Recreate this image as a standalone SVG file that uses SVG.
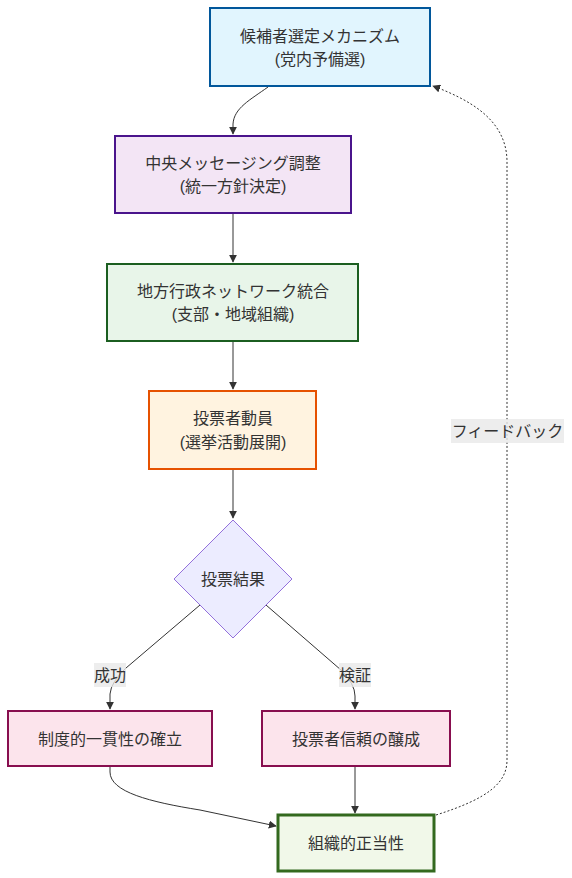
<svg xmlns="http://www.w3.org/2000/svg" width="572" height="878" viewBox="0 0 572 878">
<defs>
<style>
text{font-family:"Liberation Sans","Noto Sans CJK JP",sans-serif;font-size:16px;fill:#333;text-anchor:middle;dominant-baseline:central}
.e{fill:none;stroke:#333;stroke-width:1}
.d{stroke-dasharray:2 2}
.lb{fill:#e8e8e8;opacity:0.8}
</style>
<marker id="ah" viewBox="0 0 10 10" refX="9" refY="5" markerWidth="8" markerHeight="8" orient="auto-start-reverse" markerUnits="userSpaceOnUse">
<path d="M0,0 L10,5 L0,10 z" fill="#333"/>
</marker>
</defs>
<rect width="572" height="878" fill="#fff"/>
<g id="connectors">
<path class="e" d="M268,87 C250,100 234,108 233,124 L233,134" marker-end="url(#ah)"/>
<path class="e" d="M233,213 L233,262" marker-end="url(#ah)"/>
<path class="e" d="M233,341 L233,389" marker-end="url(#ah)"/>
<path class="e" d="M233,469 L233,518" marker-end="url(#ah)"/>
<path class="e" d="M200,605 L126,668 Q111,682 110,694 L110,709" marker-end="url(#ah)"/>
<path class="e" d="M266,605 L341,670 Q355,684 355,696 L355,709" marker-end="url(#ah)"/>
<path class="e" d="M110,766 L110,772 C110,792 150,802 200,810 L276,826" marker-end="url(#ah)"/>
<path class="e" d="M355,766 L355,813" marker-end="url(#ah)"/>
<path class="e d" d="M436,815 C490,798 507,782 507,760 L507,162 C507,120 470,100 433,86" marker-end="url(#ah)"/>
<rect class="lb" x="94" y="663" width="32" height="24"/>
<text x="110" y="675">成功</text>
<rect class="lb" x="339" y="663" width="32" height="24"/>
<text x="355" y="675">検証</text>
<rect class="lb" x="451" y="419" width="113" height="24"/>
<text x="507.5" y="431">フィードバック</text>
</g>
<g id="n1">
<rect x="210" y="8" width="220" height="78" fill="#e1f5fe" stroke="#01579b" stroke-width="2"/>
<text x="320" y="36">候補者選定メカニズム</text>
<text x="320" y="59">(党内予備選)</text>
</g>
<g id="n2">
<rect x="115" y="136" width="236" height="77" fill="#f3e5f5" stroke="#4a148c" stroke-width="2"/>
<text x="233" y="163">中央メッセージング調整</text>
<text x="233" y="186">(統一方針決定)</text>
</g>
<g id="n3">
<rect x="107" y="264" width="251" height="77" fill="#e8f5e9" stroke="#1b5e20" stroke-width="2"/>
<text x="233" y="291">地方行政ネットワーク統合</text>
<text x="233" y="314">(支部・地域組織)</text>
</g>
<g id="n4">
<rect x="149" y="391" width="167" height="78" fill="#fff3e0" stroke="#e65100" stroke-width="2"/>
<text x="233" y="418">投票者動員</text>
<text x="233" y="442">(選挙活動展開)</text>
</g>
<g id="n5">
<polygon points="233,520 292,579 233,638 174,579" fill="#ececff" stroke="#9370db" stroke-width="1"/>
<text x="233" y="579">投票結果</text>
</g>
<g id="n6">
<rect x="8" y="711" width="204" height="55" fill="#fce4ec" stroke="#880e4f" stroke-width="2"/>
<text x="110" y="739">制度的一貫性の確立</text>
</g>
<g id="n7">
<rect x="262" y="711" width="188" height="55" fill="#fce4ec" stroke="#880e4f" stroke-width="2"/>
<text x="356" y="739">投票者信頼の醸成</text>
</g>
<g id="n8">
<rect x="278" y="815" width="156" height="56" fill="#f1f8e9" stroke="#33691e" stroke-width="3"/>
<text x="356" y="843">組織的正当性</text>
</g>
</svg>
